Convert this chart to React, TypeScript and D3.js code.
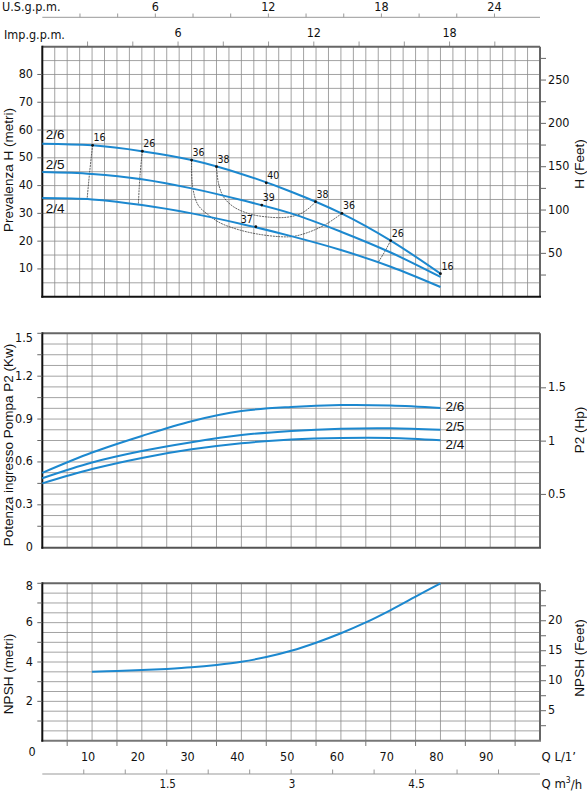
import React from "react";
import * as d3 from "d3";

// flow points (L/min) used by the H and P2 curves
const flowLmin = [0, 10, 20, 30, 40, 50, 60, 70, 80];

// head (m)
const head26 = [55.1, 54.5, 52.4, 49.2, 44.2, 37.8, 30.1, 20.2, 8.3];
const head25 = [44.9, 44.2, 42.3, 39.0, 34.8, 30.0, 23.4, 15.9, 7.1];
const head24 = [35.5, 35.0, 33.0, 30.0, 26.2, 21.8, 16.8, 10.8, 3.5];

// power P2 (kW)
const power26 = [0.524, 0.666, 0.782, 0.885, 0.956, 0.985, 0.998, 0.995, 0.978];
const power25 = [0.486, 0.596, 0.676, 0.738, 0.788, 0.817, 0.833, 0.836, 0.826];
const power24 = [0.45, 0.55, 0.628, 0.688, 0.731, 0.757, 0.768, 0.768, 0.752];

// NPSH (m)
const npshFlow = [10, 15, 20, 25, 30, 35, 40, 45, 50, 55, 60, 65, 70, 75, 80];
const npshM = [3.51, 3.54, 3.59, 3.65, 3.73, 3.85, 4.01, 4.25, 4.57, 4.98, 5.46, 6.01, 6.64, 7.32, 8.0];

const models = ["2/6", "2/5", "2/4"];

// efficiency (%) points on the curves: [Q, H]
const effLabels = ["16", "26", "36", "38", "40", "38", "36", "26", "16", "39", "37"];
const effQ = [10.1, 20.1, 30.0, 35.0, 45.0, 54.9, 60.2, 70.0, 80.0, 44.1, 42.9];
const effH = [54.5, 52.4, 49.2, 46.8, 41.0, 34.2, 30.0, 20.2, 8.3, 33.0, 25.2];

// iso-efficiency lines [Q, H]
const iso16: [number, number][] = [[10.1, 54.5], [9.5, 44.6], [9.0, 35.1]];
const iso26a: [number, number][] = [[20.1, 52.4], [19.6, 43.0], [19.3, 33.0]];
const iso26b: [number, number][] = [[70.0, 20.2], [68.8, 16.2], [67.5, 12.4]];
const iso36: [number, number][] = [
  [30.0, 49.2], [30.2, 39.6], [31.3, 33.0], [33.4, 29.4], [35.7, 26.6], [39.1, 24.3],
  [43.1, 22.6], [47.8, 21.6], [50.4, 21.7], [53.8, 23.4], [57.1, 26.2], [60.2, 30.0],
];
const iso38: [number, number][] = [
  [35.0, 46.8], [35.4, 40.8], [36.4, 36.0], [38.4, 32.4], [41.7, 29.8], [45.8, 28.6],
  [49.1, 28.6], [51.8, 29.8], [53.8, 32.2], [54.9, 34.2],
];

// axis ticks
const headTicks = [10, 20, 30, 40, 50, 60, 70, 80];
const feetLabels = [50, 100, 150, 200, 250];
const powerLabels = [0, 0.3, 0.6, 0.9, 1.2, 1.5];
const hpLabels = [0.5, 1, 1.5];
const npshLabels = [2, 4, 6, 8];
const npshFeetLabels = [5, 10, 15, 20];
const flowLabels = [10, 20, 30, 40, 50, 60, 70, 80, 90];
const usLabels = [6, 12, 18, 24];
const impLabels = [6, 12, 18];
const m3Labels = [1.5, 3, 4.5];

const BLUE = "#1c88cf";
const GRID = "#8c8c8c";
const NUM = "'DejaVu Sans Condensed','DejaVu Sans',sans-serif";
const SANS = "'Liberation Sans',Arial,sans-serif";

const x = d3.scaleLinear().domain([0, 100]).range([42.3, 540]);
const xUS = d3.scaleLinear().domain([0, 100 / 3.7854]).range(x.range());
const xImp = d3.scaleLinear().domain([0, 100 / 4.5461]).range(x.range());
const xM3 = d3.scaleLinear().domain([0, 6]).range(x.range());

const yH = d3.scaleLinear().domain([0, 90]).range([296.7, 46.7]);
const yFt = d3.scaleLinear().domain([0, 288.5]).range([296.7, 46.7]);
const yP = d3.scaleLinear().domain([0, 1.5]).range([547.7, 333.3]);
const yHp = d3.scaleLinear().domain([0, 1.5 / 0.7457]).range([547.7, 333.3]);
const yN = d3.scaleLinear().domain([0, 8]).range([740.7, 583.3]);
const yNft = d3.scaleLinear().domain([0, 8 * 3.2808]).range([740.7, 583.3]);

const X0 = x(0);
const X1 = x(100);

function Grid({ xStep, yScale, yStep }: { xStep: number; yScale: d3.ScaleLinear<number, number>; yStep: number }) {
  const [y0, y1] = yScale.range();
  const [d0, d1] = yScale.domain();
  return (
    <g stroke={GRID} strokeWidth={0.8}>
      {d3.range(xStep, 100, xStep).map((q) => (
        <line key={"v" + q} x1={x(q)} x2={x(q)} y1={y0} y2={y1} />
      ))}
      {d3.range(d0 + yStep, d1 - yStep / 2, yStep).map((v) => (
        <line key={"h" + v} x1={X0} x2={X1} y1={yScale(v)} y2={yScale(v)} />
      ))}
    </g>
  );
}

function Frame({ yScale, bottomColor }: { yScale: d3.ScaleLinear<number, number>; bottomColor: string }) {
  const [yb, yt] = yScale.range();
  return (
    <g fill="none" strokeWidth={2}>
      <line x1={X0} x2={X1} y1={yt} y2={yt} stroke="#666" />
      <line x1={X1} x2={X1} y1={yt} y2={yb} stroke="#666" />
      <line x1={X0 - 1} x2={X1 + 1} y1={yb} y2={yb} stroke={bottomColor} />
      <line x1={X0} x2={X0} y1={yt - 1} y2={yb + 1} stroke="#111" />
    </g>
  );
}

export default function App() {
  const lineH = d3
    .line<[number, number]>()
    .x((d) => x(d[0]))
    .y((d) => yH(d[1]))
    .curve(d3.curveCatmullRom.alpha(0.5));
  const lineP = d3
    .line<[number, number]>()
    .x((d) => x(d[0]))
    .y((d) => yP(d[1]))
    .curve(d3.curveCatmullRom.alpha(0.5));
  const lineN = d3
    .line<[number, number]>()
    .x((d) => x(d[0]))
    .y((d) => yN(d[1]))
    .curve(d3.curveCatmullRom.alpha(0.5));

  const heads = [head26, head25, head24];
  const powers = [power26, power25, power24];
  const zip = (vals: number[]) => flowLmin.map((q, i) => [q, vals[i]] as [number, number]);

  return (
    <div style={{ position: "absolute", left: 0, top: 0 }}>
      <svg width={587} height={791} style={{ display: "block", background: "#fff" }}>
        {/* ---------- top axes (U.S. gpm, Imp. gpm) ---------- */}
        <g fontFamily={NUM} fontStretch="condensed" fontSize={12.5} fill="#111">
          <text x={2} y={11}>U.S.g.p.m.</text>
          <line x1={X0} x2={X1} y1={17.3} y2={17.3} stroke="#999" strokeWidth={1} />
          {d3.range(2, 25, 2).map((g) => (
            <line key={g} x1={xUS(g)} x2={xUS(g)} y1={13.5} y2={17.3} stroke="#999" />
          ))}
          {usLabels.map((g) => (
            <text key={g} x={xUS(g)} y={11} textAnchor="middle">{g}</text>
          ))}
          <text x={4} y={39}>Imp.g.p.m.</text>
          {d3.range(2, 21, 2).map((g) => (
            <line key={g} x1={xImp(g)} x2={xImp(g)} y1={41.5} y2={46} stroke="#999" />
          ))}
          {impLabels.map((g) => (
            <text key={g} x={xImp(g)} y={37} textAnchor="middle">{g}</text>
          ))}
        </g>

        {/* ---------- panel 1: head ---------- */}
        <Grid xStep={2.5} yScale={yH} yStep={5} />
        <Frame yScale={yH} bottomColor="#111" />
        <g fontFamily={NUM} fontStretch="condensed" fontSize={12.5} fill="#111">
          {headTicks.map((v) => (
            <g key={v}>
              <line x1={X0 - 5} x2={X0} y1={yH(v)} y2={yH(v)} stroke="#666" />
              <text x={33} y={yH(v)} textAnchor="end" dominantBaseline="middle">{v}</text>
            </g>
          ))}
          {d3.range(25, 288, 25).map((f) => (
            <line key={f} x1={X1} x2={X1 + 6} y1={yFt(f)} y2={yFt(f)} stroke="#666" />
          ))}
          {feetLabels.map((f) => (
            <text key={f} x={548} y={yFt(f)} dominantBaseline="middle">{f}</text>
          ))}
        </g>
        <g fill="none" stroke="#333" strokeWidth={0.75} strokeDasharray="2 0.8">
          {[iso16, iso26a, iso26b, iso36, iso38].map((pts, i) => (
            <path key={i} d={lineH(pts) || ""} />
          ))}
        </g>
        <g fill="none" stroke={BLUE} strokeWidth={2}>
          {heads.map((h, i) => (
            <path key={i} d={lineH(zip(h)) || ""} />
          ))}
        </g>
        <g fontFamily={NUM} fontStretch="condensed" fontSize={10.5} fill="#111">
          {effLabels.map((lab, i) => (
            <g key={i}>
              <circle cx={x(effQ[i])} cy={yH(effH[i])} r={1.4} fill="#111" />
              <text
                x={x(effQ[i]) + (lab === "37" ? -3 : 1)}
                y={yH(effH[i]) - 4}
                textAnchor={lab === "37" ? "end" : "start"}
              >
                {lab}
              </text>
            </g>
          ))}
        </g>
        <g fontFamily={SANS} fontSize={13.5} fill="#111">
          <text x={x(0) + 3.5} y={yH(head26[0]) - 4.5}>{models[0]}</text>
          <text x={x(0) + 3.5} y={yH(head25[0]) - 2.5}>{models[1]}</text>
          <text x={x(0) + 3.5} y={yH(head24[0]) + 15}>{models[2]}</text>
        </g>

        {/* ---------- panel 2: power ---------- */}
        <Grid xStep={5} yScale={yP} yStep={0.075} />
        <Frame yScale={yP} bottomColor="#555" />
        <g fontFamily={NUM} fontStretch="condensed" fontSize={12.5} fill="#111">
          {d3.range(0.15, 1.5, 0.15).map((v) => (
            <line key={v} x1={X0 - 5} x2={X0} y1={yP(v)} y2={yP(v)} stroke="#666" />
          ))}
          {powerLabels.map((v) => (
            <text key={v} x={33} y={Math.max(yP(v), yP.range()[1] + 5.5)} textAnchor="end" dominantBaseline="middle">
              {v === 0 ? "0" : d3.format(".1f")(v)}
            </text>
          ))}
          {hpLabels.map((v) => (
            <g key={v}>
              <line x1={X1} x2={X1 + 6} y1={yHp(v)} y2={yHp(v)} stroke="#666" />
              <text x={548} y={yHp(v)} dominantBaseline="middle">{v}</text>
            </g>
          ))}
        </g>
        <g fill="none" stroke={BLUE} strokeWidth={2}>
          {powers.map((p, i) => (
            <path key={i} d={lineP(zip(p)) || ""} />
          ))}
        </g>
        <g fontFamily={SANS} fontSize={13.5} fill="#111" dominantBaseline="middle">
          <text x={x(80) + 5} y={yP(power26[8])}>{models[0]}</text>
          <text x={x(80) + 5} y={yP(power25[8]) - 2}>{models[1]}</text>
          <text x={x(80) + 5} y={yP(power24[8]) + 5}>{models[2]}</text>
        </g>

        {/* ---------- panel 3: NPSH ---------- */}
        <Grid xStep={5} yScale={yN} yStep={0.5} />
        <Frame yScale={yN} bottomColor="#777" />
        <g fontFamily={NUM} fontStretch="condensed" fontSize={12.5} fill="#111">
          {d3.range(1, 9, 1).map((v) => (
            <line key={v} x1={X0 - 5} x2={X0} y1={yN(v)} y2={yN(v)} stroke="#666" />
          ))}
          {npshLabels.map((v) => (
            <text key={v} x={33} y={Math.max(yN(v), yN.range()[1] + 3)} textAnchor="end" dominantBaseline="middle">{v}</text>
          ))}
          {d3.range(2.5, 26, 2.5).map((f) => (
            <line key={f} x1={X1} x2={X1 + 6} y1={yNft(f)} y2={yNft(f)} stroke="#666" />
          ))}
          {npshFeetLabels.map((f) => (
            <text key={f} x={548} y={yNft(f)} dominantBaseline="middle">{f}</text>
          ))}
        </g>
        <path
          d={lineN(npshFlow.map((q, i) => [q, npshM[i]] as [number, number])) || ""}
          fill="none"
          stroke={BLUE}
          strokeWidth={2}
        />

        {/* ---------- bottom axes ---------- */}
        <g fontFamily={NUM} fontStretch="condensed" fontSize={12.5} fill="#111">
          {d3.range(5, 100, 10).map((q) => (
            <line key={q} x1={x(q)} x2={x(q)} y1={741} y2={746} stroke="#777" />
          ))}
          <text x={32} y={752} textAnchor="middle" dominantBaseline="middle">0</text>
          {flowLabels.map((q) => (
            <text key={q} x={x(q) - 4} y={757} textAnchor="middle" dominantBaseline="middle">{q}</text>
          ))}
          <text x={541.5} y={757} dominantBaseline="middle" fontSize={13}>Q  L/1’</text>
          <line x1={X0} x2={X1} y1={774} y2={774} stroke="#999" />
          {d3.range(0.5, 5.6, 0.5).map((m) => (
            <line key={m} x1={xM3(m)} x2={xM3(m)} y1={769.5} y2={774} stroke="#999" />
          ))}
          {m3Labels.map((m) => (
            <text key={m} x={xM3(m) + 1} y={784} textAnchor="middle" dominantBaseline="middle" fontSize={11.5}>{m}</text>
          ))}
          <text x={541.5} y={784.5} dominantBaseline="middle" fontSize={13}>
            Q  m<tspan dy={-5} fontSize={8.5}>3</tspan><tspan dy={5}>/h</tspan>
          </text>
        </g>

        {/* ---------- axis titles ---------- */}
        <g fontFamily={SANS} fontSize={13.5} fill="#111" textAnchor="middle">
          <text transform="translate(13,170) rotate(-90)">Prevalenza H (metri)</text>
          <text transform="translate(584,164) rotate(-90)">H (Feet)</text>
          <text transform="translate(13,445) rotate(-90)">Potenza ingresso Pompa P2 (Kw)</text>
          <text transform="translate(584,430) rotate(-90)">P2 (Hp)</text>
          <text transform="translate(13,674) rotate(-90)">NPSH (metri)</text>
          <text transform="translate(584,658) rotate(-90)">NPSH (Feet)</text>
        </g>
      </svg>
    </div>
  );
}
